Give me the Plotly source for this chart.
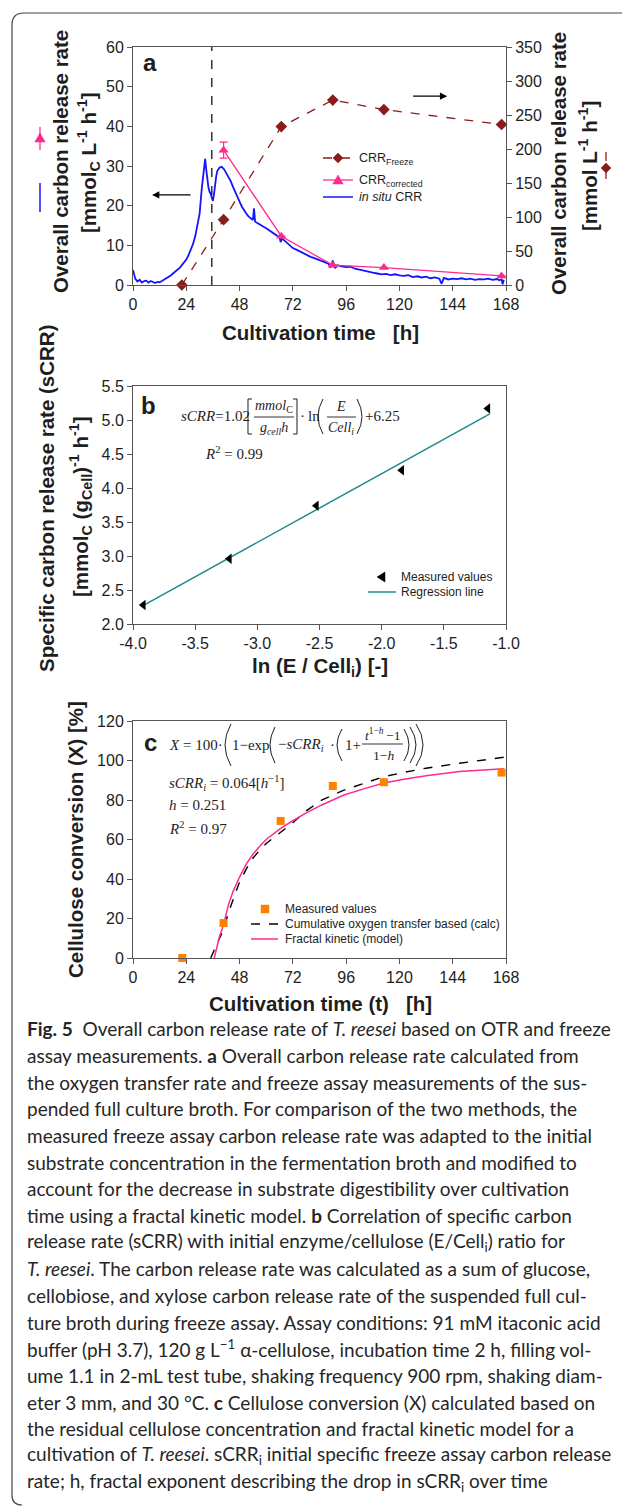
import plotly.graph_objects as go

# page body has an 8 px margin: the figure is drawn 8 px in from the top-left corner
OFF = 8
FW, FH = 622, 1498

# ---------------- data: panel a ----------------
insitu_points = [
    (0, 3.8), (0.5, 2.6), (1, 1.6), (2, 0.9), (3, 1.3), (4, 0.6), (5, 1.0), (6, 1.1), (7, 0.6), (8, 1.0),
    (9, 0.7), (10, 0.5), (11, 0.8), (12, 0.7), (13, 1.0), (14, 1.3), (15, 1.6), (16, 2.0), (17, 2.4), (18, 2.9),
    (19, 3.3), (20, 3.8), (21, 4.3), (22, 5.0), (23, 5.6), (24, 6.4), (25, 7.5), (26, 8.8), (27, 10.3), (28, 12.2),
    (29, 15.0), (30, 18.0), (31, 24.5), (31.5, 27.5), (32, 29.5), (32.5, 31.8), (33, 29.0), (33.5, 26.5), (34, 24.5),
    (34.5, 23.5), (35, 23.0), (35.5, 22.0), (36, 21.2), (36.5, 23.0), (37, 25.5), (37.5, 27.5), (38, 28.8), (39, 29.6),
    (40, 29.8), (41, 29.2), (42, 28.2), (43, 27.3), (44, 26.2), (45, 24.8), (46, 23.4), (47, 22.1), (48, 21.0),
    (49, 19.8), (50, 18.8), (51, 18.0), (52, 17.3), (53, 16.8), (54, 16.4), (54.5, 19.3), (55, 16.0), (56, 15.6),
    (57, 15.2), (58, 14.9), (59, 14.6), (60, 14.3), (61, 13.9), (62, 13.5), (63, 13.1), (64, 12.7), (65, 12.3),
    (66, 12.0), (66.5, 10.8), (67, 11.7), (68, 11.3), (69, 10.8), (70, 10.3), (71, 9.8), (72, 9.3), (74, 8.8),
    (76, 8.2), (78, 7.6), (80, 7.1), (82, 6.7), (84, 6.2), (86, 5.8), (88, 5.4), (89, 4.4), (90, 6.2), (91, 4.2),
    (92, 5.0), (94, 4.7), (96, 4.5), (98, 4.6), (100, 4.1), (102, 3.9), (104, 3.6), (106, 3.4), (108, 3.1),
    (110, 2.9), (112, 2.7), (114, 2.8), (116, 2.5), (118, 2.7), (120, 2.4), (122, 2.3), (124, 2.5), (126, 2.0),
    (128, 2.2), (130, 1.9), (132, 2.1), (134, 1.7), (136, 1.9), (138, 1.6), (139, 0.3), (140, 1.8), (142, 1.4),
    (144, 1.6), (146, 1.5), (148, 1.7), (150, 1.4), (152, 1.6), (154, 1.3), (156, 1.5), (158, 1.4), (160, 1.6),
    (162, 1.3), (164, 1.5), (165, 1.2), (166, 1.4), (166.5, 0.2), (167, 1.3),
]
t_insitu = [p[0] for p in insitu_points]
crr_insitu = [p[1] for p in insitu_points]

t_freeze = [22, 40.8, 66.8, 90, 113, 166]
crr_freeze = [0, 96, 233, 272, 258, 236]          # right axis
t_corr = [40.8, 66.8, 90, 113, 166]
crr_corr = [34.0, 12.3, 5.0, 4.4, 2.3]            # left axis
crr_corr_err = [2.0, 0, 0, 0, 0]
t_phase = 35.5                                    # dashed vertical marker
time_ticks = [0, 24, 48, 72, 96, 120, 144, 168]

# ---------------- data: panel b ----------------
ln_ratio = [-3.917, -3.225, -2.525, -1.839, -1.146]
scrr = [2.28, 2.96, 3.74, 4.26, 5.17]
reg_x = [-3.93, -1.13]
reg_y = [2.26, 5.09]
b_ticks = [-4.0, -3.5, -3.0, -2.5, -2.0, -1.5, -1.0]
b_ticktext = ["-4.0", "-3.5", "-3.0", "-2.5", "-2.0", "-1.5", "-1.0"]

# ---------------- data: panel c ----------------
t_conv = [22.2, 40.8, 66.5, 90, 113, 166]
conv = [0, 17.7, 69.4, 87.1, 89.0, 93.9]
t_calc = [35, 36, 38, 40.8, 43, 45, 48, 51, 54, 57, 60, 64, 67, 72, 78, 85, 95, 105, 113, 122, 132, 147, 158, 168]
conv_calc = [0, 2.5, 8, 14.5, 23, 29.5, 38.5, 45, 50.5, 54.5, 58, 61.5, 64, 68.5, 74.5, 80, 85, 89, 91.8, 94, 96.1, 98.6, 100.3, 101.8]
t_model = [36.6, 38, 39, 40.8, 43, 45, 48, 51, 54, 57, 60, 64, 67, 72, 78, 85, 95, 105, 113, 122, 132, 147, 158, 167]
conv_model = [0, 7, 11, 17, 27, 33.5, 41, 47.5, 52.5, 56.5, 60, 63.5, 66, 69.5, 73.5, 77.5, 82.5, 86, 88.6, 90.5, 92.3, 94.4, 95.3, 95.8]

# ---------------- colours ----------------
BLUE = "#1414ff"
PINK = "#ff2a90"
BROWN = "#8b1c1c"
TEAL = "#1d8c8c"
ORANGE = "#ff8000"
AX = "#555555"
TXT = "#1e1e1e"


def px(x):
    return (x - OFF) / FW


def py(y):
    return 1 - (y - OFF) / FH


def P(points, close=True):
    s = "M " + " L ".join(f"{px(x):.5f},{py(y):.5f}" for x, y in points)
    return s + (" Z" if close else "")


def paren(x0, xext, ytop, ybot):
    """curved parenthesis: ends at x0, extreme at xext"""
    xc = 2 * xext - x0
    ym = (ytop + ybot) / 2
    return dict(type="path", xref="paper", yref="paper",
                path=(f"M {px(x0):.5f},{py(ytop):.5f} Q {px(xc):.5f},{py(ym):.5f} "
                      f"{px(x0):.5f},{py(ybot):.5f}"),
                line=dict(color=TXT, width=1))


def txt(x, y, text, size=14, family="Liberation Sans", xanchor="center", angle=0, color=TXT):
    return dict(x=px(x), y=py(y), xref="paper", yref="paper", text=text, showarrow=False,
                xanchor=xanchor, yanchor="middle", textangle=angle, align="left" if xanchor == "left" else "center",
                font=dict(family=family, size=size, color=color))


fig = go.Figure()

# panel a traces
fig.add_trace(go.Scatter(x=t_freeze, y=crr_freeze, xaxis="x", yaxis="y2", mode="lines+markers",
                         line=dict(color=BROWN, width=1.3, dash="dash"),
                         marker=dict(symbol="diamond", size=9, color=BROWN), cliponaxis=False))
fig.add_trace(go.Scatter(x=t_insitu, y=crr_insitu, xaxis="x", yaxis="y", mode="lines",
                         line=dict(color=BLUE, width=1.8)))
fig.add_trace(go.Scatter(x=t_corr, y=crr_corr, xaxis="x", yaxis="y", mode="lines+markers",
                         line=dict(color=PINK, width=1.3),
                         marker=dict(symbol="triangle-up", size=9, color=PINK),
                         error_y=dict(type="data", array=crr_corr_err, color=PINK, thickness=1.2, width=4),
                         cliponaxis=False))

# panel b traces
fig.add_trace(go.Scatter(x=reg_x, y=reg_y, xaxis="x2", yaxis="y3", mode="lines",
                         line=dict(color=TEAL, width=1.5)))
fig.add_trace(go.Scatter(x=ln_ratio, y=scrr, xaxis="x2", yaxis="y3", mode="markers",
                         marker=dict(symbol="triangle-left", size=9, color="black")))

# panel c traces
fig.add_trace(go.Scatter(x=t_calc, y=conv_calc, xaxis="x3", yaxis="y4", mode="lines",
                         line=dict(color="black", width=1.4, dash="dash")))
fig.add_trace(go.Scatter(x=t_model, y=conv_model, xaxis="x3", yaxis="y4", mode="lines",
                         line=dict(color=PINK, width=1.5)))
fig.add_trace(go.Scatter(x=t_conv, y=conv, xaxis="x3", yaxis="y4", mode="markers",
                         marker=dict(symbol="square", size=8, color=ORANGE), cliponaxis=False))

tickfont = dict(family="Liberation Sans", size=16, color=TXT)
common = dict(showline=True, linecolor=AX, linewidth=1, mirror=True, ticks="outside", ticklen=5,
              tickcolor=AX, showgrid=False, zeroline=False, tickfont=tickfont, fixedrange=True,
              automargin=False)
xdom = [px(133), px(506)]

fig.update_layout(
    width=FW, height=FH, autosize=False, showlegend=False,
    margin=dict(l=0, r=0, t=0, b=0, pad=0, autoexpand=False),
    paper_bgcolor="white", plot_bgcolor="white",
    xaxis=dict(domain=xdom, range=[0, 168], tickvals=time_ticks, anchor="y", **common),
    yaxis=dict(domain=[py(285), py(47)], range=[0, 60], dtick=10, anchor="x", **common),
    yaxis2=dict(overlaying="y", side="right", range=[0, 350], dtick=50, anchor="x",
                showline=True, linecolor=AX, linewidth=1, ticks="outside", ticklen=5, tickcolor=AX,
                showgrid=False, zeroline=False, tickfont=tickfont, fixedrange=True, automargin=False),
    xaxis2=dict(domain=xdom, range=[-4, -1], tickvals=b_ticks, ticktext=b_ticktext, anchor="y3", **common),
    yaxis3=dict(domain=[py(624), py(386)], range=[2, 5.5], dtick=0.5, tickformat=".1f", anchor="x2", **common),
    xaxis3=dict(domain=xdom, range=[0, 168], tickvals=time_ticks, anchor="y4", **common),
    yaxis4=dict(domain=[py(958), py(721)], range=[0, 120], dtick=20, anchor="x3", **common),
)

shapes = []
ann = []

# outer rounded frame
shapes.append(dict(type="path", xref="paper", yref="paper",
                   path=(f"M {px(631)},{py(13)} L {px(24)},{py(13)} Q {px(12)},{py(13)} {px(12)},{py(25)} "
                         f"L {px(12)},{py(1495)} Q {px(12)},{py(1505)} {px(22)},{py(1505)}"),
                   line=dict(color="#444", width=1.2)))

# panel a: dashed vertical line and arrows
shapes.append(dict(type="line", xref="x", yref="y domain", x0=t_phase, x1=t_phase, y0=0, y1=1,
                   line=dict(color="black", width=1.2, dash="dash")))
ann.append(dict(x=8.6, y=22.7, ax=26.6, ay=22.7, xref="x", yref="y", axref="x", ayref="y",
                text="", showarrow=True, arrowhead=2, arrowsize=1.2, arrowwidth=1.2, arrowcolor="black"))
ann.append(dict(x=141.5, y=47.6, ax=125.5, ay=47.6, xref="x", yref="y", axref="x", ayref="y",
                text="", showarrow=True, arrowhead=2, arrowsize=1.2, arrowwidth=1.2, arrowcolor="black"))


def diamond(cx, cy, r, color):
    return dict(type="path", xref="paper", yref="paper",
                path=P([(cx, cy - r), (cx + r, cy), (cx, cy + r), (cx - r, cy)]),
                fillcolor=color, line=dict(color=color, width=0.5))


def tri_up(cx, cy, r, color):
    return dict(type="path", xref="paper", yref="paper",
                path=P([(cx, cy - r), (cx + r * 1.05, cy + r * 0.8), (cx - r * 1.05, cy + r * 0.8)]),
                fillcolor=color, line=dict(color=color, width=0.5))


def hline(x0, x1, y, color, dash="solid", width=1.3):
    return dict(type="line", xref="paper", yref="paper", x0=px(x0), x1=px(x1), y0=py(y), y1=py(y),
                line=dict(color=color, width=width, dash=dash))


def vline(x, y0, y1, color, dash="solid", width=1.3):
    return dict(type="line", xref="paper", yref="paper", x0=px(x), x1=px(x), y0=py(y0), y1=py(y1),
                line=dict(color=color, width=width, dash=dash))


# panel a legend
shapes += [hline(323, 353, 158, BROWN, "dash"), diamond(338, 158, 5, BROWN),
           hline(323, 353, 180, PINK), tri_up(338, 180, 5, PINK),
           hline(323, 353, 197, BLUE, width=1.5)]
ann += [txt(357, 159, "CRR<sub>Freeze</sub>", 12.5, xanchor="left"),
        txt(357, 181, "CRR<sub>corrected</sub>", 12.5, xanchor="left"),
        txt(357, 197, "<i>in situ</i> CRR", 12.5, xanchor="left")]

# panel a axis-title symbols
shapes += [vline(40, 127, 150, PINK), tri_up(40, 138, 5, PINK),
           vline(40, 183, 212, BLUE, width=1.5),
           vline(606, 152, 184, BROWN, "dash"), diamond(606, 168, 5, BROWN)]

TS = 20.5
# panel a texts
ann += [txt(150, 63, "<b>a</b>", 24),
        txt(60, 162, "<b>Overall carbon release rate</b>", TS, angle=-90),
        txt(88, 163, "<b>[mmol<sub>C</sub> L<sup>-1</sup> h<sup>-1</sup>]</b>", TS, angle=-90),
        txt(558, 164, "<b>Overall carbon release rate</b>", TS, angle=-90),
        txt(588, 166, "<b>[mmol L<sup>-1</sup> h<sup>-1</sup>]</b>", TS, angle=-90),
        txt(320, 332, "<b>Cultivation time\u00a0\u00a0\u00a0[h]</b>", TS)]

# panel b texts
SER = "Liberation Serif"
ann += [txt(148, 405, "<b>b</b>", 24),
        txt(47, 498, "<b>Specific carbon release rate (sCRR)</b>", TS, angle=-90),
        txt(80, 507, "<b>[mmol<sub>C</sub> (g<sub>Cell</sub>)<sup>-1</sup> h<sup>-1</sup>]</b>", TS, angle=-90),
        txt(320, 667, "<b>ln (E / Cell<sub>i</sub>) [-]</b>", TS),
        txt(179, 416, "<i>sCRR</i>=1.02", 15, SER, "left"),
        txt(274, 407, "<i>mmol</i><sub>C</sub>", 14, SER),
        txt(274, 428, "<i>g</i><sub><i>cell</i></sub><i>h</i>", 14, SER),
        txt(310, 416, "·\u2009ln", 15, SER),
        txt(341, 407, "<i>E</i>", 14, SER),
        txt(341, 428, "<i>Cell</i><sub><i>i</i></sub>", 14, SER),
        txt(363, 416, "+6.25", 15, SER, "left"),
        txt(203, 453, "<i>R</i><sup>2</sup> = 0.99", 15, SER, "left"),
        txt(399, 577, "Measured values", 12, xanchor="left"),
        txt(399, 592, "Regression line", 12, xanchor="left")]
shapes += [dict(type="path", xref="paper", yref="paper",
                path=P([(252, 399), (248, 399), (248, 434), (252, 434)], close=False),
                line=dict(color=TXT, width=1)),
           dict(type="path", xref="paper", yref="paper",
                path=P([(293, 399), (297, 399), (297, 434), (293, 434)], close=False),
                line=dict(color=TXT, width=1)),
           hline(254, 294, 417, TXT, width=0.9),
           hline(327, 356, 417, TXT, width=0.9),
           paren(323, 318, 399, 434),
           paren(357, 362, 399, 434),
           dict(type="path", xref="paper", yref="paper",
                path=P([(377, 577), (385, 572), (385, 582)]), fillcolor="black",
                line=dict(color="black", width=0.5)),
           hline(368, 396, 592, TEAL, width=1.5)]

# panel c texts
ann += [txt(150, 742, "<b>c</b>", 24),
        txt(75, 840, "<b>Cellulose conversion (X) [%]</b>", TS, angle=-90),
        txt(320, 1003, "<b>Cultivation time (t)\u00a0\u00a0\u00a0[h]</b>", TS),
        txt(167, 745, "<i>X</i> = 100·", 15, SER, "left"),
        txt(230, 745, "1−exp", 15, SER, "left"),
        txt(276, 745, "−<i>sCRR</i><sub><i>i</i></sub>", 15, SER, "left"),
        txt(332, 745, "·", 15, SER),
        txt(343, 745, "1+", 15, SER, "left"),
        txt(383, 734, "<i>t</i><sup>1−<i>h</i></sup>\u2009−1", 13.5, SER),
        txt(383, 755, "1−<i>h</i>", 13.5, SER),
        txt(167, 783, "<i>sCRR</i><sub><i>i</i></sub> = 0.064[<i>h</i><sup>−1</sup>]", 15, SER, "left"),
        txt(167, 805, "<i>h</i> = 0.251", 15, SER, "left"),
        txt(167, 828, "<i>R</i><sup>2</sup> = 0.97", 15, SER, "left"),
        txt(283, 909, "Measured values", 12, xanchor="left"),
        txt(283, 924, "Cumulative oxygen transfer based (calc)", 12, xanchor="left"),
        txt(283, 939, "Fractal kinetic (model)", 12, xanchor="left")]
shapes += [paren(231, 225, 724, 766), paren(275, 270, 727, 763), paren(342, 337, 729, 761),
           paren(404, 409, 729, 761), paren(410, 416, 727, 763), paren(416, 423, 724, 766),
           hline(362, 403, 744, TXT, width=0.9),
           dict(type="path", xref="paper", yref="paper",
                path=P([(261, 905), (269, 905), (269, 913), (261, 913)]), fillcolor=ORANGE,
                line=dict(color=ORANGE, width=0.5)),
           hline(251, 278, 924, "black", "dash", 1.4),
           hline(251, 278, 939, PINK, width=1.5)]

# caption
caption_lines = [
    "<b>Fig. 5</b>\u00a0\u00a0Overall carbon release rate of <i>T. reesei</i> based on OTR and freeze",
    "assay measurements. <b>a</b> Overall carbon release rate calculated from",
    "the oxygen transfer rate and freeze assay measurements of the sus-",
    "pended full culture broth. For comparison of the two methods, the",
    "measured freeze assay carbon release rate was adapted to the initial",
    "substrate concentration in the fermentation broth and modified to",
    "account for the decrease in substrate digestibility over cultivation",
    "time using a fractal kinetic model. <b>b</b> Correlation of specific carbon",
    "release rate (sCRR) with initial enzyme/cellulose (E/Cell<sub>i</sub>) ratio for",
    "<i>T. reesei</i>. The carbon release rate was calculated as a sum of glucose,",
    "cellobiose, and xylose carbon release rate of the suspended full cul-",
    "ture broth during freeze assay. Assay conditions: 91 mM itaconic acid",
    "buffer (pH 3.7), 120 g L<sup>\u22121</sup> \u03b1-cellulose, incubation time 2 h, filling vol-",
    "ume 1.1 in 2-mL test tube, shaking frequency 900 rpm, shaking diam-",
    "eter 3 mm, and 30 \u00b0C. <b>c</b> Cellulose conversion (X) calculated based on",
    "the residual cellulose concentration and fractal kinetic model for a",
    "cultivation of <i>T. reesei</i>. sCRR<sub>i</sub> initial specific freeze assay carbon release",
    "rate; h, fractal exponent describing the drop in sCRR<sub>i</sub> over time",
]
for i, line in enumerate(caption_lines):
    ann.append(txt(25, 1029 + 26.65 * i, line, 19, "Lato", "left", color="#262626"))

fig.update_layout(shapes=shapes, annotations=ann)
fig.write_html("out.html")
